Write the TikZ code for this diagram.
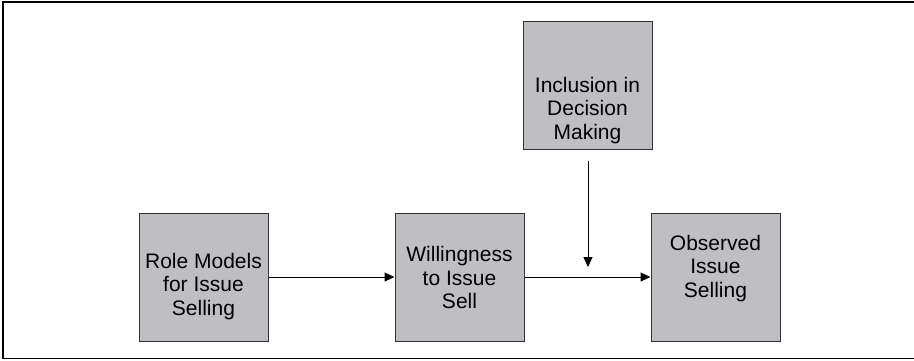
\documentclass[tikz,border=0pt]{standalone}
\usepackage{fontspec}
\setmainfont{Liberation Sans}
\usetikzlibrary{arrows.meta,calc}
\definecolor{boxfill}{RGB}{191,191,195}
\definecolor{boxline}{RGB}{50,50,50}
\tikzset{
  box/.style={draw=boxline, line width=1pt, fill=boxfill, minimum width=129pt, minimum height=128pt, inner sep=0pt},
  lbl/.style={anchor=north, align=center, inner sep=0pt, font=\fontsize{21pt}{23.5pt}\selectfont},
  conn/.style={draw=black, line width=1pt, -{Triangle[length=10pt,width=9pt]}},
  frame/.style={draw=black, line width=1.6pt}
}
\begin{document}
\begin{tikzpicture}[x=1pt,y=-1pt]
\useasboundingbox (0,0) rectangle (914,360);
\coordinate (ftr) at (916,2);
\coordinate (ftl) at (3,2);
\coordinate (fbl) at (3,358.5);
\coordinate (fbr) at (916,358.5);
\draw[frame] (ftr) -- (ftl) -- (fbl) -- (fbr);
\node[box] (b1) at (203.5,277) {};
\node[box] (b2) at (459.5,277) {};
\node[box] (b3) at (715.5,277) {};
\node[box] (b4) at (587.5,85) {};
\node[lbl] (t1) at (203.5,253) {Role Models\\for Issue\\Selling};
\node[lbl] (t2) at (459.5,246.5) {Willingness\\to Issue\\Sell};
\node[lbl] (t3) at (715.5,235) {Observed\\Issue\\Selling};
\node[lbl] (t4) at (587.5,77) {Inclusion in\\Decision\\Making};
\coordinate (vs) at (588,161);
\coordinate (ve) at (588,267);
\draw[conn] (b1.east) -- (b2.west);
\draw[conn] (b2.east) -- (b3.west);
\draw[conn] (vs) -- (ve);
\end{tikzpicture}
\end{document}
